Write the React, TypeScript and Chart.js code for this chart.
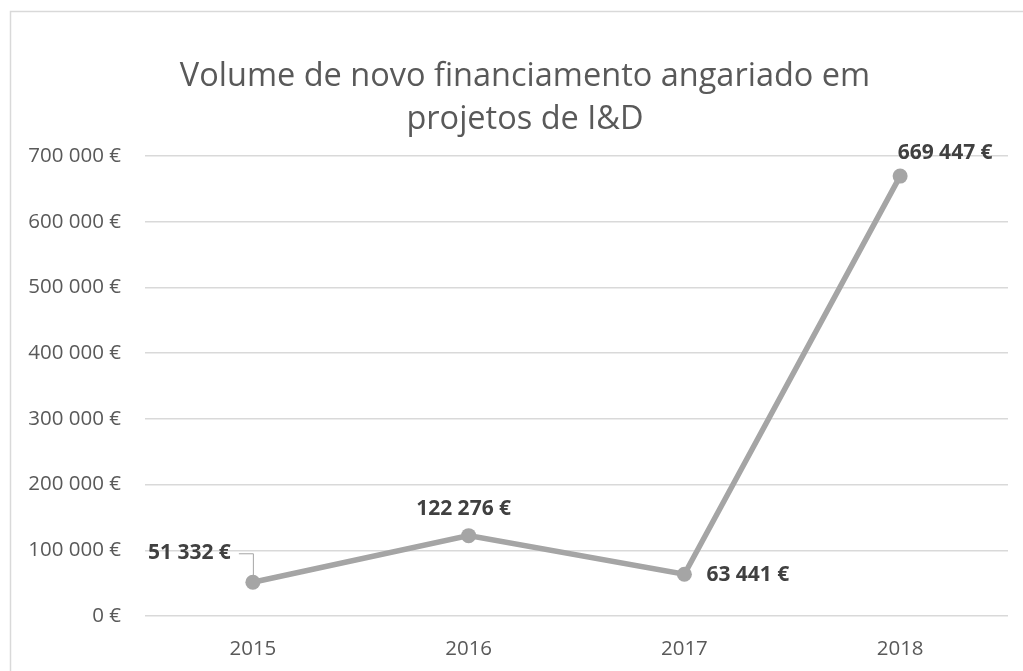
import React, { useEffect, useRef } from "react";
import { Chart, registerables } from "chart.js";

Chart.register(...registerables);

const categories = ["2015", "2016", "2017", "2018"];
const values = [51332, 122276, 63441, 669447];
const yTicks = [0, 100000, 200000, 300000, 400000, 500000, 600000, 700000];
const titleLines = ["Volume de novo financiamento angariado em", "projetos de I&D"];

const FONT = "'Open Sans', sans-serif";

function fmt(v: number): string {
  const s = Math.round(v).toString().replace(/\B(?=(\d{3})+(?!\d))/g, " ");
  return s + " €";
}

// label placement per point: [dx, dy, align]
const labelPos: Array<[number, number, CanvasTextAlign]> = [
  [-22, -29, "right"],
  [-5, -27, "center"],
  [22, 1, "left"],
  [45, -23, "center"],
];

const framePlugin = {
  id: "frameAndTitle",
  beforeDraw(chart: any) {
    const ctx = chart.ctx;
    ctx.save();
    ctx.fillStyle = "#ffffff";
    ctx.fillRect(0, 0, chart.width, chart.height);
    ctx.strokeStyle = "#d9d9d9";
    ctx.lineWidth = 1.5;
    ctx.strokeRect(10.5, 11.5, chart.width + 50, chart.height + 50);
    // title
    ctx.fillStyle = "#595959";
    ctx.font = `32.5px ${FONT}`;
    ctx.textAlign = "center";
    ctx.textBaseline = "middle";
    ctx.fillText(titleLines[0], 525, 77);
    ctx.fillText(titleLines[1], 525, 120);
    ctx.restore();
  },
};

const labelPlugin = {
  id: "pointLabels",
  afterDatasetsDraw(chart: any) {
    const ctx = chart.ctx;
    const meta = chart.getDatasetMeta(0);
    ctx.save();
    ctx.font = `bold 21px ${FONT}`;
    ctx.fillStyle = "#404040";
    ctx.textBaseline = "middle";
    meta.data.forEach((pt: any, i: number) => {
      const [dx, dy, align] = labelPos[i];
      const tx = pt.x + dx;
      const ty = pt.y + dy;
      ctx.textAlign = align;
      ctx.fillText(fmt(values[i]), tx, ty);
      if (i === 0) {
        ctx.strokeStyle = "#a5a5a5";
        ctx.lineWidth = 1;
        ctx.beginPath();
        ctx.moveTo(tx + 8, ty + 0.5);
        ctx.lineTo(pt.x + 0.5, ty + 0.5);
        ctx.lineTo(pt.x + 0.5, pt.y - 4);
        ctx.stroke();
      }
    });
    ctx.restore();
  },
};

export default function App() {
  const ref = useRef<HTMLCanvasElement | null>(null);
  useEffect(() => {
    if (!ref.current) return;
    const chart = new Chart(ref.current, {
      type: "line",
      data: {
        labels: categories,
        datasets: [
          {
            data: values,
            borderColor: "#a5a5a5",
            backgroundColor: "#a5a5a5",
            borderWidth: 5.5,
            pointRadius: 7.5,
            pointHoverRadius: 7.5,
            pointBorderWidth: 0,
            tension: 0,
          },
        ],
      },
      options: {
        animation: false,
        responsive: false,
        layout: { padding: { left: 10, right: 15, top: 156, bottom: 0 } },
        plugins: {
          legend: { display: false },
          tooltip: { enabled: false },
          title: { display: false },
        },
        scales: {
          x: {
            offset: true,
            grid: { display: false, drawTicks: false },
            border: { display: false },
            ticks: { color: "#595959", font: { family: FONT, size: 20.5 }, padding: 21 },
            afterFit: (s: any) => {
              s.height = 55;
            },
          },
          y: {
            min: 0,
            max: 700000,
            afterBuildTicks: (s: any) => {
              s.ticks = yTicks.map((v) => ({ value: v }));
            },
            grid: { color: "#d9d9d9", lineWidth: 1.5, drawTicks: false },
            border: { display: false },
            ticks: {
              color: "#595959",
              font: { family: FONT, size: 20.5 },
              padding: 24,
              callback: (v: any) => fmt(Number(v)),
            },
            afterFit: (s: any) => {
              s.width = 135;
            },
          },
        },
      },
      plugins: [framePlugin, labelPlugin],
    });
    return () => chart.destroy();
  }, []);
  return (
    <div style={{ position: "absolute", left: 0, top: 0, width: 1023, height: 671 }}>
      <canvas ref={ref} width={1023} height={671} style={{ display: "block" }} />
    </div>
  );
}
